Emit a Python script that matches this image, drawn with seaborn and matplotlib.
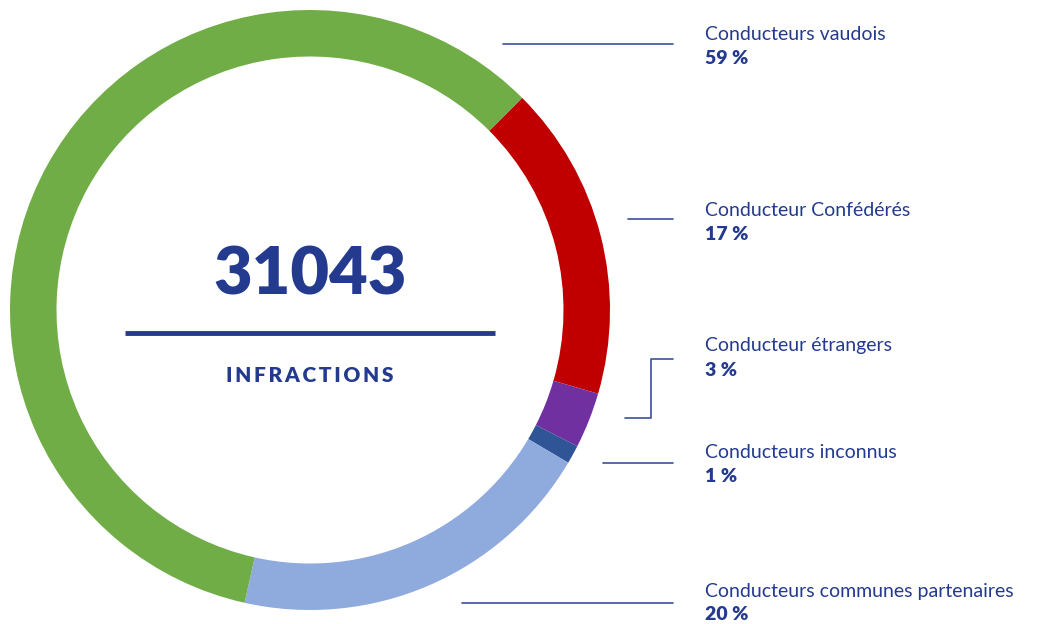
import numpy as np
import pandas as pd
import matplotlib
matplotlib.use('Agg')
import matplotlib.pyplot as plt
import seaborn as sns

sns.set_theme(style='white')
plt.rcParams['font.family'] = ['Lato', 'DejaVu Sans']

# données
categories = ['Conducteur Confédérés', 'Conducteur étrangers', 'Conducteurs inconnus',
              'Conducteurs communes partenaires', 'Conducteurs vaudois']
parts = [17, 3, 1, 20, 59]
couleurs = ['#c00000', '#7030a0', '#2f5597', '#8faadc', '#70ad47']
total = 31043

# ordre des étiquettes à droite (haut -> bas)
label_order = ['Conducteurs vaudois', 'Conducteur Confédérés', 'Conducteur étrangers',
               'Conducteurs inconnus', 'Conducteurs communes partenaires']

navy = '#233a8f'
W, H = 1044, 624
fig = plt.figure(figsize=(W / 100, H / 100), dpi=100)

# anneau
ax = fig.add_axes([10 / W, 14 / H, 600 / W, 600 / H])
ax.pie(parts, colors=couleurs, startangle=45, counterclock=False,
       radius=1.0, wedgeprops=dict(width=0.155, edgecolor='none'))
ax.set_xlim(-1, 1)
ax.set_ylim(-1, 1)
ax.set_aspect('equal')
ax.axis('off')

ax.text(0, 0.115, f'{total}', ha='center', va='center', fontsize=48,
        fontweight='heavy', color=navy)
ax.plot([-0.617, 0.617], [-0.077, -0.077], color=navy, lw=3.5, solid_capstyle='butt')
ax.text(0, -0.22, '\u2009'.join('INFRACTIONS'), ha='center', va='center',
        fontsize=15, fontweight='heavy', color=navy)

# annotations (coordonnées pixels de la figure)
ov = fig.add_axes([0, 0, 1, 1])
ov.set_xlim(0, W)
ov.set_ylim(H, 0)
ov.axis('off')
ov.patch.set_alpha(0)

lines = [
    [(503, 44), (673, 44)],
    [(628, 219), (673, 219)],
    [(625, 418), (651, 418), (651, 359), (673, 359)],
    [(603, 463), (673, 463)],
    [(462, 603), (673, 603)],
]
text_y = [34, 210, 346, 453, 591]
lookup = dict(zip(categories, parts))
for name, pts, ty in zip(label_order, lines, text_y):
    xs, ys = zip(*pts)
    ov.plot(xs, ys, color='#3c509b', lw=1.2)
    ov.text(705, ty, name, ha='left', va='center', fontsize=14, color=navy)
    ov.text(705, ty + 24, f'{lookup[name]} %', ha='left', va='center', fontsize=14,
            fontweight='heavy', color=navy)

fig.savefig('out.png', dpi=100, facecolor='white')
